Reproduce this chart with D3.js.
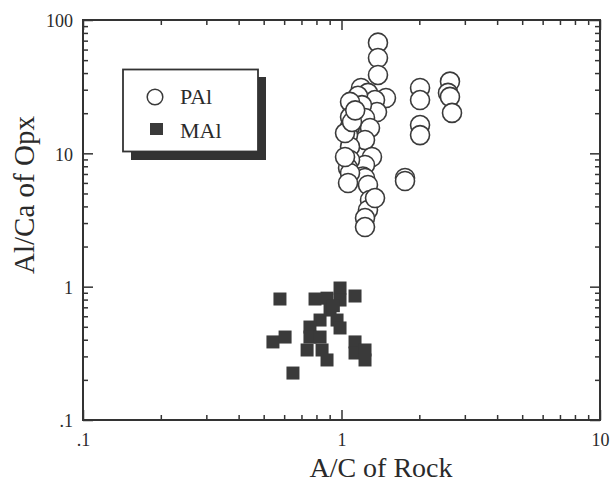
<!DOCTYPE html>
<html>
<head>
<meta charset="utf-8">
<script src="https://cdn.jsdelivr.net/npm/d3@7"></script>
<style>
  html, body { margin: 0; padding: 0; background: #fff; }
  svg { display: block; }
  text { font-family: "Liberation Serif", "Times New Roman", serif; fill: #2a2a2a; }
</style>
</head>
<body>
<svg id="chart" width="613" height="486"></svg>
<script>
// ---- Data ----
const seriesNames = ["PAl", "MAl"];

// PAl: A/C of Rock, Al/Ca of Opx
const paiX = [1.384, 1.384, 1.384, 1.486, 1.190, 1.266, 1.348, 1.158, 1.372, 1.200, 1.233, 1.289, 1.233, 1.312, 1.233, 1.210, 1.233, 1.266, 1.289, 1.266, 1.233, 1.233, 1.348,
              1.079, 1.079, 1.079, 1.060, 1.079, 1.079, 1.060, 1.079, 1.060, 1.032, 1.032, 1.098, 1.130,
              2.013, 2.013, 2.013, 2.013, 2.628, 2.582, 2.628, 2.676, 1.761, 1.761];
const paiY = [67.6, 51.9, 38.7, 26.0, 30.9, 28.4, 25.1, 27.0, 20.4, 23.0, 18.4, 15.5, 12.6, 9.39, 8.18, 6.7, 6.53, 5.79, 4.47, 3.76, 3.27, 2.80, 4.62,
              24.3, 18.7, 15.8, 13.7, 11.2, 8.91, 7.76, 7.12, 5.99, 14.2, 9.39, 17.2, 21.0,
              30.9, 25.1, 16.3, 13.7, 34.5, 28.4, 26.5, 20.1, 6.53, 6.2];

// MAl
const malX = [0.578, 0.790, 0.879, 0.987, 0.987, 1.128, 0.903, 0.930, 0.826, 0.961, 0.755, 0.755, 0.826, 0.736, 0.841, 0.987, 0.543, 0.605, 0.879, 0.649, 1.128, 1.128, 1.233, 1.233];
const malY = [0.808, 0.808, 0.820, 0.977, 0.794, 0.851, 0.668, 0.720, 0.562, 0.562, 0.498, 0.419, 0.419, 0.335, 0.335, 0.490, 0.385, 0.419, 0.282, 0.225, 0.385, 0.318, 0.335, 0.282];

const xMajor = [0.1, 1, 10];
const yMajor = [0.1, 1, 10, 100];
const xLabel = "A/C of Rock";
const yLabel = "Al/Ca of Opx";

// ---- Layout ----
const L = 83, R = 600, T = 20, B = 420;
const svg = d3.select("#chart");
const x = d3.scaleLog().domain([0.1, 10]).range([L, R]);
const y = d3.scaleLog().domain([0.1, 100]).range([B, T]);
const ink = "#333";
const fmt = d => d < 1 ? ".1" : String(d);

function minorTicks(domain) {
  const out = [];
  for (let e = Math.log10(domain[0]); e < Math.log10(domain[1]); e++) {
    for (let k = 2; k <= 9; k++) out.push(k * Math.pow(10, e));
  }
  return out;
}
const xMinor = minorTicks([0.1, 10]);
const yMinor = minorTicks([0.1, 100]);

function styleAxis(g) {
  g.select(".domain").remove();
  g.selectAll(".tick line").attr("stroke", ink).attr("stroke-width", 1.5);
  g.selectAll("text").style("font-size", "18px").attr("fill", "#2a2a2a");
}

// minor ticks (inside) on all sides
svg.append("g").attr("transform", `translate(0,${B})`)
  .call(d3.axisBottom(x).tickValues(xMinor).tickSize(-5).tickFormat(""))
  .call(styleAxis);
svg.append("g").attr("transform", `translate(0,${T})`)
  .call(d3.axisTop(x).tickValues(xMinor).tickSize(-5).tickFormat(""))
  .call(styleAxis);
svg.append("g").attr("transform", `translate(${L},0)`)
  .call(d3.axisLeft(y).tickValues(yMinor).tickSize(-5).tickFormat(""))
  .call(styleAxis);
svg.append("g").attr("transform", `translate(${R},0)`)
  .call(d3.axisRight(y).tickValues(yMinor).tickSize(-5).tickFormat(""))
  .call(styleAxis);

// major ticks with labels
svg.append("g").attr("transform", `translate(0,${B})`)
  .call(d3.axisBottom(x).tickValues(xMajor).tickSize(-10).tickPadding(13).tickFormat(fmt))
  .call(styleAxis);
svg.append("g").attr("transform", `translate(0,${T})`)
  .call(d3.axisTop(x).tickValues(xMajor).tickSize(-10).tickFormat(""))
  .call(styleAxis);
const yAx = svg.append("g").attr("transform", `translate(${L},0)`)
  .call(d3.axisLeft(y).tickValues(yMajor).tickSize(-10).tickPadding(10).tickFormat(fmt))
  .call(styleAxis);
yAx.selectAll("text").attr("dy", "0.38em");
svg.append("g").attr("transform", `translate(${R},0)`)
  .call(d3.axisRight(y).tickValues(yMajor).tickSize(-10).tickFormat(""))
  .call(styleAxis);

// frame
svg.append("rect").attr("x", L).attr("y", T).attr("width", R - L).attr("height", B - T)
  .attr("fill", "none").attr("stroke", ink).attr("stroke-width", 2);

// data: squares
const sq = 13;
svg.append("g").selectAll("rect").data(d3.range(malX.length)).join("rect")
  .attr("x", i => x(malX[i]) - sq / 2).attr("y", i => y(malY[i]) - sq / 2)
  .attr("width", sq).attr("height", sq).attr("fill", "#3a3a3a");

// data: circles
svg.append("g").selectAll("circle").data(d3.range(paiX.length)).join("circle")
  .attr("cx", i => x(paiX[i])).attr("cy", i => y(paiY[i])).attr("r", 9.5)
  .attr("fill", "#fff").attr("stroke", "#3a3a3a").attr("stroke-width", 1.6);

// legend
const lg = svg.append("g");
lg.append("rect").attr("x", 131).attr("y", 77).attr("width", 135).attr("height", 83).attr("fill", "#333");
lg.append("rect").attr("x", 123).attr("y", 69.5).attr("width", 135).attr("height", 82)
  .attr("fill", "#fff").attr("stroke", ink).attr("stroke-width", 1.8);
lg.append("circle").attr("cx", 155).attr("cy", 97).attr("r", 7.8)
  .attr("fill", "#fff").attr("stroke", "#3a3a3a").attr("stroke-width", 1.5);
lg.append("rect").attr("x", 150).attr("y", 123).attr("width", 13).attr("height", 12).attr("fill", "#3a3a3a");
lg.append("text").attr("x", 180).attr("y", 104).style("font-size", "22px").text(seriesNames[0]);
lg.append("text").attr("x", 180).attr("y", 138).style("font-size", "22px").text(seriesNames[1]);

// axis titles
svg.append("text").attr("x", 381).attr("y", 477).attr("text-anchor", "middle")
  .style("font-size", "28px").text(xLabel);
svg.append("text").attr("transform", "translate(34,195) rotate(-90)").attr("text-anchor", "middle")
  .style("font-size", "29px").text(yLabel);
</script>
</body>
</html>
